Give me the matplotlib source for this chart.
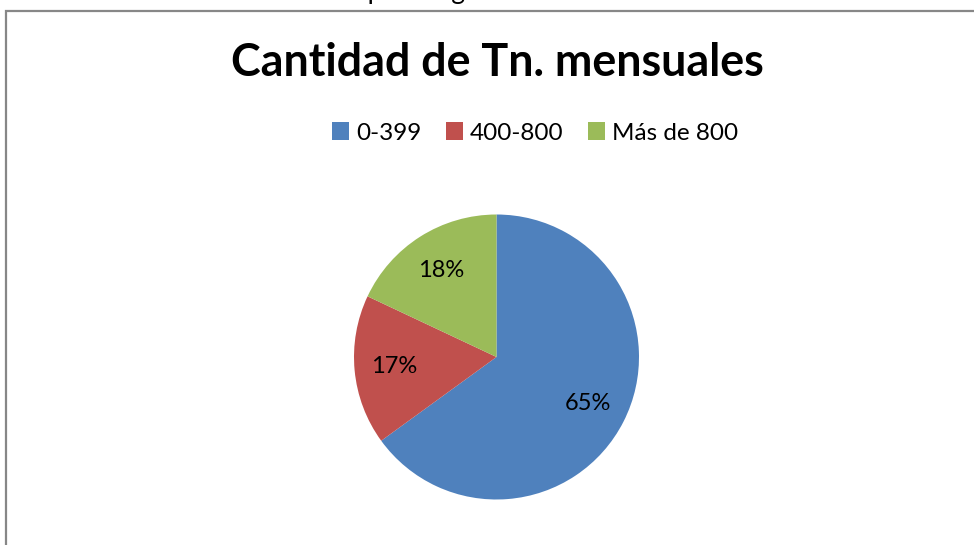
import matplotlib
matplotlib.use("Agg")
import matplotlib.pyplot as plt
from matplotlib.patches import Rectangle

title = "Cantidad de Tn. mensuales"
caption = "Gráfico 1: Cantidad de material por rango"
categories = ["0-399", "400-800", "Más de 800"]
values = [65, 17, 18]
colors = ["#4F81BD", "#C0504D", "#9BBB59"]

W, H = 974, 545
fig = plt.figure(figsize=(W / 100, H / 100), dpi=100)
fig.patch.set_facecolor("white")

# chart border (extends past right/bottom edges)
fig.patches.append(Rectangle((5.5 / W, -0.05), 1.1, 1 - 10.5 / H + 0.05,
                             transform=fig.transFigure, fill=False,
                             edgecolor="#878787", linewidth=1.6))

# clipped caption above the chart (only its lower edge shows, as in the reference)
fig.text(0.0, 1 + 1.5 / H, caption, ha="left", va="baseline",
         fontsize=19, family="Lato", color="black")

fig.text(497 / W, 1 - 63 / H, title, ha="center", va="center",
         fontsize=32.3, fontweight="bold", family="Lato", color="black")

cx, cy, r = 496.5, 357, 142.5
ax = fig.add_axes([(cx - r) / W, 1 - (cy + r) / H, 2 * r / W, 2 * r / H])
wedges, texts, autotexts = ax.pie(
    values, colors=colors, startangle=90, counterclock=False,
    autopct=lambda p: f"{p:.0f}%", pctdistance=0.72,
    wedgeprops=dict(linewidth=0), textprops=dict(fontsize=17, family="Lato", color="black"))
ax.set_aspect("equal")
ax.set_xlim(-1, 1)
ax.set_ylim(-1, 1)

leg = fig.legend(wedges, categories, loc="center", bbox_to_anchor=(535 / W, 1 - 133 / H),
                 ncol=3, frameon=False, prop=dict(family="Lato", size=17.5),
                 handlelength=0.7, handleheight=0.7, handletextpad=0.3, columnspacing=1.0)

fig.savefig("out.png", dpi=100)
